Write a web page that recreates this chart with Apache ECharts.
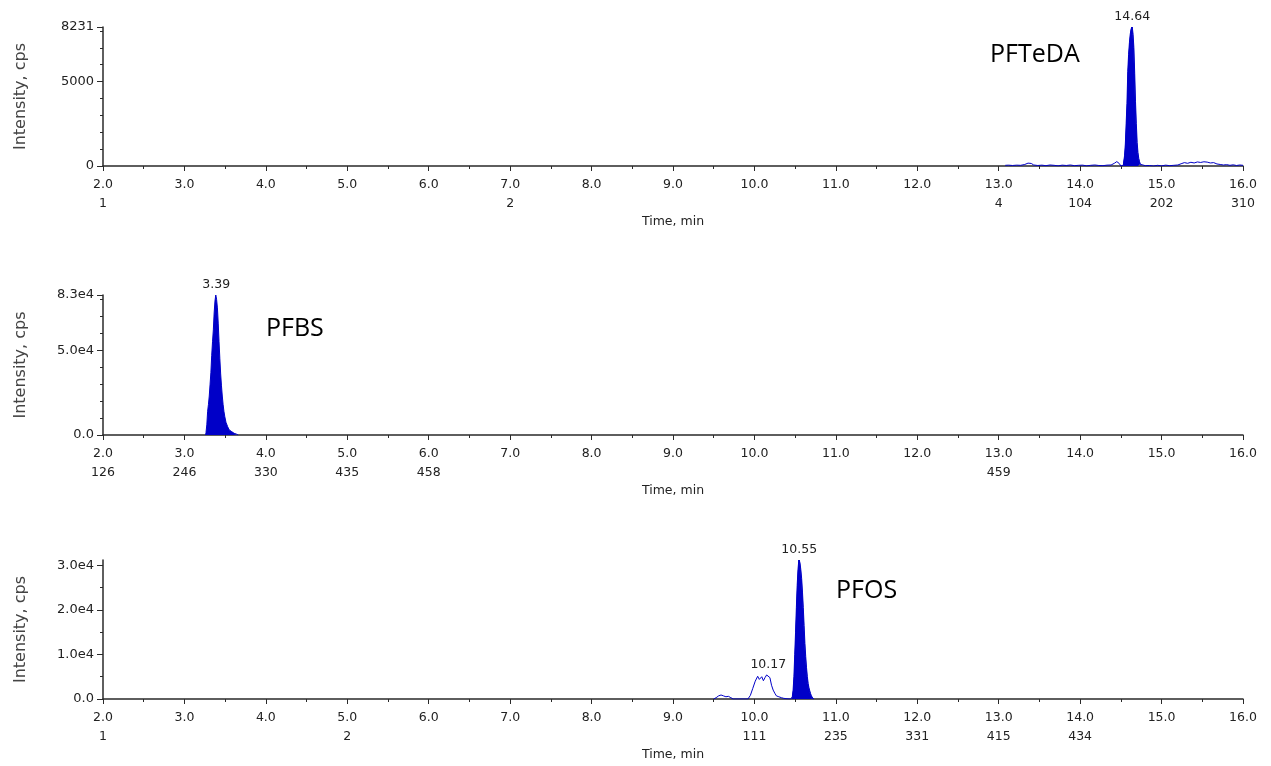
<!DOCTYPE html>
<html>
<head>
<meta charset="utf-8">
<title>Extracted ion chromatograms</title>
<script src="https://cdn.jsdelivr.net/npm/echarts@6/dist/echarts.min.js"></script>
<style>
  html, body { margin: 0; padding: 0; background: #fff; }
  #chart { width: 1271px; height: 766px; }
</style>
</head>
<body>
<div id="chart"></div>
<script>
// ---- PFTeDA trace (time in min, intensity in cps) ----
const pfteNoiseBefore = [
  [13.08, 40], [13.12, 50], [13.17, 30], [13.22, 50], [13.27, 40], [13.32, 90], [13.36, 170],
  [13.40, 150], [13.43, 60], [13.48, 30], [13.53, 50], [13.58, 20], [13.63, 60], [13.68, 40],
  [13.73, 10], [13.78, 50], [13.83, 30], [13.88, 60], [13.93, 20], [13.98, 40], [14.03, 50],
  [14.08, 10], [14.13, 40], [14.18, 60], [14.23, 30], [14.28, 20], [14.33, 50], [14.38, 60],
  [14.42, 160], [14.45, 260], [14.48, 150], [14.50, 0], [14.52, 20]
];
const pftePeak = [
  [14.53, 40], [14.54, 150], [14.55, 600], [14.56, 1300], [14.57, 2500], [14.58, 3700],
  [14.59, 5600], [14.60, 6600], [14.61, 7300], [14.62, 7800], [14.63, 8100], [14.64, 8231],
  [14.65, 7800], [14.66, 7000], [14.67, 5500], [14.68, 3800], [14.69, 2500], [14.70, 1400],
  [14.71, 800], [14.72, 450], [14.73, 250], [14.74, 100], [14.75, 30]
];
const pfteNoiseAfter = [
  [14.76, 40], [14.80, 20], [14.85, 30], [14.90, 0], [14.95, 40], [15.00, 10], [15.05, 50],
  [15.10, 20], [15.15, 40], [15.20, 60], [15.25, 150], [15.28, 200], [15.32, 160], [15.36, 220],
  [15.40, 180], [15.44, 240], [15.48, 210], [15.52, 250], [15.56, 230], [15.60, 180], [15.64, 200],
  [15.68, 120], [15.72, 90], [15.76, 60], [15.80, 80], [15.84, 40], [15.88, 70], [15.92, 30],
  [15.96, 60], [16.00, 40]
];

// ---- PFBS trace ----
const pfbsPeak = [
  [3.26, 0], [3.27, 1500], [3.28, 6000], [3.29, 14000], [3.30, 18000], [3.31, 23000],
  [3.32, 30000], [3.33, 37000], [3.34, 47000], [3.35, 55000], [3.36, 62000], [3.37, 72000],
  [3.38, 79000], [3.39, 82600], [3.40, 80000], [3.41, 75000], [3.42, 66000], [3.43, 55000],
  [3.44, 45000], [3.45, 36000], [3.46, 29000], [3.47, 23000], [3.48, 18000], [3.49, 14000],
  [3.50, 11000], [3.52, 7500], [3.54, 5000], [3.56, 3000], [3.58, 2000], [3.61, 1000],
  [3.64, 500], [3.66, 0]
];

// ---- PFOS trace ----
const pfosPre = [
  [9.50, 0], [9.53, 300], [9.56, 700], [9.59, 900], [9.62, 700], [9.65, 500], [9.68, 600],
  [9.71, 300], [9.74, 0], [9.80, 0], [9.86, 0], [9.92, 0]
];
const pfosBranch = [
  [9.95, 800], [9.98, 2400], [10.01, 4000], [10.04, 5100], [10.06, 4400], [10.09, 5000],
  [10.11, 4100], [10.13, 4800], [10.15, 5400], [10.17, 5500], [10.19, 4800], [10.21, 3100],
  [10.23, 2000], [10.25, 1300], [10.27, 700], [10.30, 500], [10.33, 300], [10.36, 150],
  [10.40, 50], [10.44, 0]
];
const pfosPeak = [
  [10.46, 0], [10.47, 500], [10.48, 2000], [10.49, 5000], [10.50, 10000], [10.51, 15000],
  [10.52, 20500], [10.53, 25500], [10.54, 29000], [10.55, 31200], [10.56, 30500], [10.57, 29000],
  [10.58, 27000], [10.59, 24000], [10.60, 20500], [10.61, 16500], [10.62, 12500], [10.63, 9500],
  [10.64, 7000], [10.65, 5000], [10.66, 3500], [10.67, 2500], [10.68, 1800], [10.69, 1200],
  [10.70, 700], [10.71, 400], [10.72, 100], [10.73, 0]
];

// ---- axis extents and ticks ----
const timeMin = 2, timeMax = 16;
const yMax = [8231, 82600, 31200];
const yLabelValues = [[0, 5000, 8231], [0, 50000, 82600], [0, 10000, 20000, 30000]];
const yMinorTicks = [
  [1000, 2000, 3000, 4000, 6000, 7000, 8000],
  [10000, 20000, 30000, 40000, 60000, 70000, 80000],
  [5000, 15000, 25000]
];
// scan numbers printed under some time ticks
const scanTimes = [
  [2, 7, 13, 14, 15, 16],
  [2, 3, 4, 5, 6, 13],
  [2, 5, 10, 11, 12, 13, 14]
];
const scanNumbers = [
  ['1', '2', '4', '104', '202', '310'],
  ['126', '246', '330', '435', '458', '459'],
  ['1', '2', '111', '235', '331', '415', '434']
];
const compoundNames = ['PFTeDA', 'PFBS', 'PFOS'];

const BLUE = '#0000c8';
const AXIS = '#2a2a2a';
const TEXT = '#222';
const FONT = 'DejaVu Sans';

const gridTops = [27, 295, 560];
const gridHeights = [139, 140, 139];
const GRID_LEFT = 103, GRID_WIDTH = 1140;

function apex(arr) {
  return arr.reduce((a, b) => (b[1] > a[1] ? b : a));
}

const yFormatters = [
  v => String(Math.round(v)),
  v => (v === 0 ? '0.0' : (v / 1e4).toFixed(1) + 'e4'),
  v => (v === 0 ? '0.0' : (v / 1e4).toFixed(1) + 'e4')
];

const grid = [], xAxis = [], yAxis = [];
for (let i = 0; i < 3; i++) {
  grid.push({ left: GRID_LEFT, width: GRID_WIDTH, top: gridTops[i], height: gridHeights[i] });
}
// overlay grids carrying only the minor y ticks
for (let i = 0; i < 3; i++) {
  grid.push({ left: GRID_LEFT, width: GRID_WIDTH, top: gridTops[i], height: gridHeights[i] });
}

for (let i = 0; i < 3; i++) {
  const times = scanTimes[i], scans = scanNumbers[i];
  xAxis.push({
    gridIndex: i, type: 'value', min: timeMin, max: timeMax, interval: 1,
    axisLine: { show: true, onZero: false, lineStyle: { color: AXIS, width: 1.5 } },
    axisTick: { show: true, length: 5, lineStyle: { color: AXIS, width: 1 } },
    minorTick: { show: true, splitNumber: 2, length: 3, lineStyle: { color: AXIS, width: 1 } },
    splitLine: { show: false },
    axisLabel: {
      color: TEXT, fontFamily: FONT, fontSize: 12.5, margin: 9, lineHeight: 19,
      formatter: v => {
        const k = times.indexOf(Math.round(v));
        return k >= 0 ? v.toFixed(1) + '\n' + scans[k] : v.toFixed(1);
      }
    },
    name: 'Time, min', nameLocation: 'middle', nameGap: 49,
    nameTextStyle: { color: TEXT, fontFamily: FONT, fontSize: 12.5 }
  });
}
for (let i = 0; i < 3; i++) {
  xAxis.push({ gridIndex: i + 3, type: 'value', min: timeMin, max: timeMax, show: false });
}

for (let i = 0; i < 3; i++) {
  yAxis.push({
    gridIndex: i, type: 'value', min: 0, max: yMax[i],
    axisLine: { show: true, lineStyle: { color: AXIS, width: 1.5 } },
    axisTick: { show: true, length: 6, customValues: yLabelValues[i], lineStyle: { color: AXIS, width: 1 } },
    axisLabel: {
      customValues: yLabelValues[i], formatter: yFormatters[i],
      color: TEXT, fontFamily: FONT, fontSize: 13, margin: 9
    },
    splitLine: { show: false },
    name: 'Intensity, cps', nameLocation: 'middle', nameGap: 74,
    nameTextStyle: { color: '#444', fontFamily: FONT, fontSize: 16 }
  });
}
for (let i = 0; i < 3; i++) {
  yAxis.push({
    gridIndex: i + 3, type: 'value', min: 0, max: yMax[i],
    axisLine: { show: false },
    axisTick: { show: true, length: 3, customValues: yMinorTicks[i], lineStyle: { color: AXIS, width: 1 } },
    axisLabel: { show: false },
    splitLine: { show: false }
  });
}

function peakLabel(point) {
  return {
    symbol: 'rect', symbolSize: 1, silent: true,
    itemStyle: { color: 'rgba(0,0,0,0)' },
    label: {
      show: true, position: 'top', distance: 3, color: TEXT, fontFamily: FONT, fontSize: 12.5,
      formatter: p => p.data.coord[0].toFixed(2)
    },
    data: [{ coord: point }]
  };
}

function traceSeries(i, data, extra) {
  return Object.assign({
    type: 'line', xAxisIndex: i, yAxisIndex: i, data: data,
    showSymbol: false, symbol: 'none', animation: false, silent: true,
    lineStyle: { color: BLUE, width: 1 }, itemStyle: { color: BLUE }
  }, extra || {});
}

function filledPeak(i, data) {
  return traceSeries(i, data, {
    step: 'middle',
    areaStyle: { color: BLUE, opacity: 1 },
    markPoint: peakLabel(apex(data))
  });
}

const series = [
  traceSeries(0, pfteNoiseBefore.concat(pftePeak, pfteNoiseAfter)),
  filledPeak(0, pftePeak),
  filledPeak(1, pfbsPeak),
  traceSeries(2, pfosPre.concat(pfosBranch, pfosPeak), { markPoint: peakLabel(apex(pfosBranch)) }),
  filledPeak(2, pfosPeak)
];

const namePos = [[990, 57], [266, 331], [836, 593]];
const graphic = compoundNames.map((t, i) => ({
  type: 'text', left: namePos[i][0], top: namePos[i][1] - 15, silent: true,
  style: { text: t, fill: '#000', font: '25px "Open Sans"' }
}));

const chart = echarts.init(document.getElementById('chart'), null, { renderer: 'canvas' });
chart.setOption({
  animation: false,
  backgroundColor: '#fff',
  grid, xAxis, yAxis, series, graphic
});
</script>
</body>
</html>
